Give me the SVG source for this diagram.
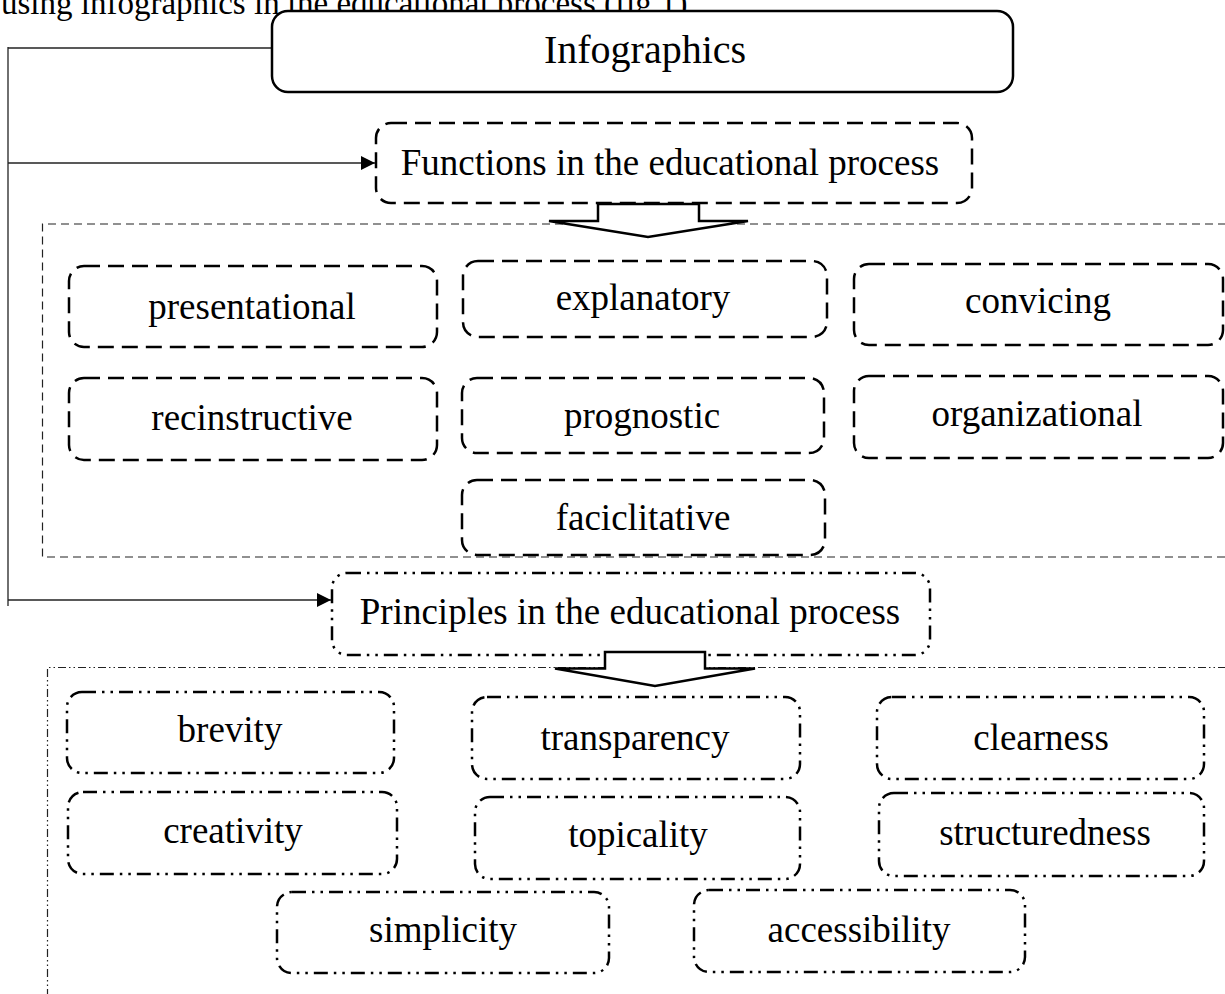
<svg xmlns="http://www.w3.org/2000/svg" width="1225" height="994" viewBox="0 0 1225 994">
<style>
text{font-family:"Liberation Serif","Times New Roman",serif;font-size:37px;fill:#000;text-anchor:middle}
.top{font-size:33px;text-anchor:start}
.solid{fill:#fff;stroke:#000;stroke-width:2.5}
.fn{fill:#fff;stroke:#000;stroke-width:2.5;stroke-dasharray:16 8}
.pr{fill:#fff;stroke:#000;stroke-width:2.5;stroke-dasharray:14 6 2.5 6 2.5 6}
.cont1{fill:none;stroke:#222;stroke-width:1.2;stroke-dasharray:8 5}
.cont2{fill:none;stroke:#222;stroke-width:1.2;stroke-dasharray:8 3 1.5 3 1.5 3}
.line{fill:none;stroke:#222;stroke-width:1.3}
.block{fill:#fff;stroke:#000;stroke-width:2.5;stroke-linejoin:miter}
</style>
<defs>
<marker id="ah" markerUnits="userSpaceOnUse" markerWidth="15" markerHeight="15" refX="14" refY="7" orient="auto">
<path d="M0,0 L14,7 L0,14 Z" fill="#000"/>
</marker>
</defs>
<rect width="1225" height="994" fill="#fff"/>
<text class="top" x="1" y="14">using infographics in the educational process (fig.1)</text>

<g id="containers">
<path class="cont1" d="M1226,224 H42.5 V557 H1226"/>
<path class="cont2" d="M1226,667.5 H47.5 V995"/>
</g>

<g id="connectors">
<path class="line" d="M8,48 H279"/>
<path class="line" d="M8,47 V606"/>
<path class="line" d="M8,163 H375" marker-end="url(#ah)"/>
<path class="line" d="M8,600 H331" marker-end="url(#ah)"/>
</g>

<g id="infographics">
<rect class="solid" x="272" y="11" width="741" height="81" rx="16"/>
<text x="645" y="63" style="font-size:40px">Infographics</text>
</g>

<g id="functions">
<rect class="fn" x="376" y="123" width="596" height="80" rx="15"/>
<text x="670" y="175">Functions in the educational process</text>
</g>
<g id="arrow-functions">
<path class="block" d="M598,204 H699 V221 H748 L648,237 L549,221 H598 Z"/>
</g>

<g id="presentational">
<rect class="fn" x="69" y="266" width="368" height="81" rx="15"/>
<text x="252" y="319">presentational</text>
</g>
<g id="explanatory">
<rect class="fn" x="463" y="261" width="364" height="76" rx="15"/>
<text x="643" y="310">explanatory</text>
</g>
<g id="convicing">
<rect class="fn" x="854" y="264" width="369" height="81" rx="15"/>
<text x="1038" y="313">convicing</text>
</g>
<g id="recinstructive">
<rect class="fn" x="69" y="378" width="368" height="82" rx="15"/>
<text x="252" y="430">recinstructive</text>
</g>
<g id="prognostic">
<rect class="fn" x="462" y="378" width="362" height="75" rx="15"/>
<text x="642" y="428">prognostic</text>
</g>
<g id="organizational">
<rect class="fn" x="854" y="376" width="369" height="82" rx="15"/>
<text x="1037" y="426">organizational</text>
</g>
<g id="faciclitative">
<rect class="fn" x="462" y="480" width="363" height="75" rx="15"/>
<text x="643" y="530">faciclitative</text>
</g>

<g id="principles">
<rect class="pr" x="332" y="573" width="598" height="82" rx="15"/>
<text x="630" y="624">Principles in the educational process</text>
</g>
<g id="arrow-principles">
<path class="block" d="M605,652 H705 V668.5 H755 L655,686 L555,668.5 H605 Z"/>
</g>

<g id="brevity">
<rect class="pr" x="67" y="692" width="327" height="81" rx="15"/>
<text x="230" y="742">brevity</text>
</g>
<g id="transparency">
<rect class="pr" x="472" y="697" width="328" height="82" rx="15"/>
<text x="635" y="750">transparency</text>
</g>
<g id="clearness">
<rect class="pr" x="877" y="697" width="327" height="82" rx="15"/>
<text x="1041" y="750">clearness</text>
</g>
<g id="creativity">
<rect class="pr" x="68" y="792" width="329" height="82" rx="15"/>
<text x="233" y="843">creativity</text>
</g>
<g id="topicality">
<rect class="pr" x="475" y="797" width="325" height="82" rx="15"/>
<text x="638" y="847">topicality</text>
</g>
<g id="structuredness">
<rect class="pr" x="879" y="793" width="325" height="83" rx="15"/>
<text x="1045" y="845">structuredness</text>
</g>
<g id="simplicity">
<rect class="pr" x="277" y="892" width="332" height="81" rx="15"/>
<text x="443" y="942">simplicity</text>
</g>
<g id="accessibility">
<rect class="pr" x="694" y="890" width="331" height="82" rx="15"/>
<text x="859" y="942">accessibility</text>
</g>
</svg>
